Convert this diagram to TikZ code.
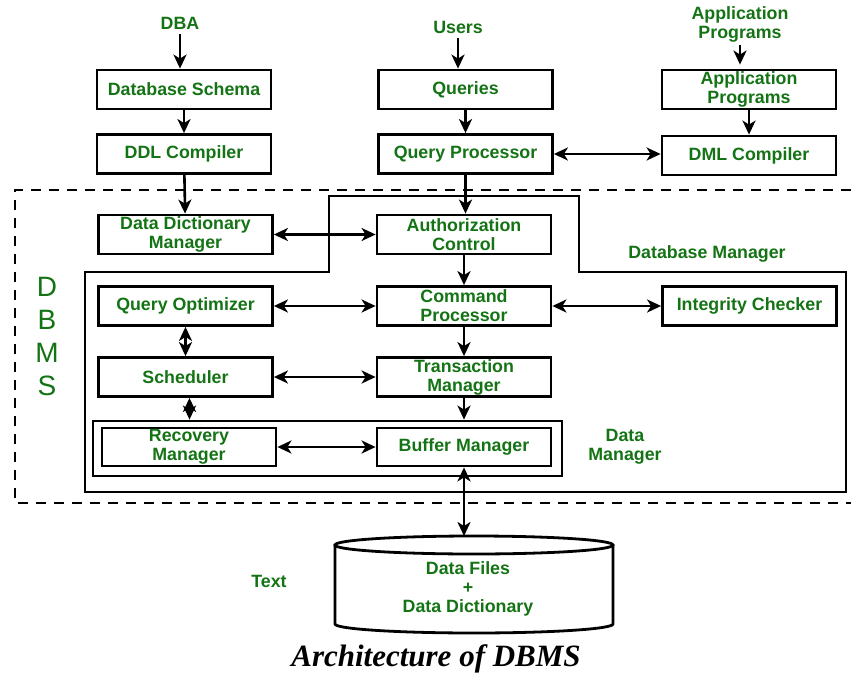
\documentclass[tikz,border=0pt]{standalone}
\usepackage{fontspec}
\setmainfont{Liberation Sans}
\newfontfamily\ttlfont{Liberation Serif}
\usetikzlibrary{arrows.meta}
\definecolor{txtgreen}{RGB}{20,115,20}
\newcommand\lblfont{\bfseries\fontsize{17.8}{19}\selectfont}
\begin{document}
\begin{tikzpicture}[x=1pt,y=-1pt,
  box/.style={draw, line width=2.8pt, minimum width=174pt, minimum height=39pt, align=center, text=txtgreen, font=\lblfont, inner sep=0pt},
  lbl/.style={text=txtgreen, font=\lblfont, align=center, inner sep=1pt},
  thk/.style={line width=2.8pt},
  ar/.style={line width=2.6pt, -{Stealth[length=14pt,width=13pt,inset=4pt]}},
  ar2/.style={line width=2.6pt, {Stealth[length=14pt,width=13pt,inset=4pt]}-{Stealth[length=14pt,width=13pt,inset=4pt]}}
]
\useasboundingbox (0,0) rectangle (851,674);

% top labels
\node[lbl] (dba) at (180,23) {DBA};
\node[lbl] (users) at (458,27) {Users};
\node[lbl] (apt) at (740,24) {Application\\Programs};

% top boxes
\node[box] (ds) at (184,89.5) {Database Schema};
\node[box] (qu) at (465.5,89.5) {Queries};
\node[box] (ap) at (749,89.5) {Application\\Programs};
\node[box] (ddl) at (184,154) {DDL Compiler};
\node[box] (qp) at (465.5,154) {Query Processor};
\node[box] (dml) at (749,155.5) {DML Compiler};

% DBMS dashed frame
\draw[thk, dash pattern=on 10pt off 8pt] (851,190) -- (15,190) -- (15,503) -- (851,503);
\node[text=txtgreen, font=\fontsize{28}{33}\selectfont, align=center, inner sep=0pt] (dbms) at (47,337) {D\\B\\M\\S};

% database manager outline
\draw[thk] (329,196) -- (579,196) -- (579,272) -- (846,272) -- (846,492) -- (85,492) -- (85,272) -- (329,272) -- cycle;
\node[lbl] (dbmlbl) at (707,254) {Database Manager};

% inner boxes
\node[box] (ddm) at (185.5,234.5) {Data Dictionary\\Manager};
\node[box] (ac) at (464,234.5) {Authorization\\Control};
\node[box] (qo) at (185.5,306) {Query Optimizer};
\node[box] (cp) at (464,306) {Command\\Processor};
\node[box] (ic) at (749.5,306) {Integrity Checker};
\node[box] (sch) at (185.5,377) {Scheduler};
\node[box] (tm) at (464,377) {Transaction\\Manager};

% data manager
\node[draw, thk, minimum width=469pt, minimum height=55pt, inner sep=0pt] (dmb) at (327.5,448.5) {};
\node[box, minimum height=38pt] (rm) at (189,447) {Recovery\\Manager};
\node[box, minimum height=38pt] (bm) at (464,447) {Buffer Manager};
\node[lbl] (dmlbl) at (625,447) {Data\\Manager};

% cylinder
\coordinate (cyltop) at (474,536);
\draw[thk] (474,545) ellipse [x radius=139pt, y radius=9pt];
\draw[thk] (335,545) -- (335,624) arc[start angle=180, end angle=360, x radius=139pt, y radius=9pt] -- (613,545);
\node[lbl] (df) at (468,589) {Data Files\\+\\Data Dictionary};
\node[lbl] (txt) at (269,581) {Text};

% title
\node[font=\ttlfont\bfseries\itshape\fontsize{31}{33}\selectfont, inner sep=0pt] (title) at (436,659) {Architecture of DBMS};

% arrows
\draw[ar, shorten <=4pt] (dba.south) -- (dba.south |- ds.north);
\draw[ar, shorten <=4pt] (users.south) -- (users.south |- qu.north);
\draw[ar, shorten <=2pt, shorten >=4pt] (apt.south) -- (apt.south |- ap.north);
\draw[ar] (ds) -- (ddl);
\draw[ar] (qu) -- (qp);
\draw[ar] (ap) -- (ap |- dml.north);
\draw[ar2] (qp.east) -- (qp.east -| dml.west);
\draw[ar] (ddl) -- (ddm);
\draw[ar] (qp) -- (qp |- ac.north);
\draw[ar2] (ddm) -- (ac);
\draw[ar] (ac) -- (cp);
\draw[ar2] (qo) -- (cp);
\draw[ar2] (cp) -- (ic);
\draw[ar2] (qo) -- (sch);
\draw[ar2] (sch) -- (tm);
\draw[ar] (cp) -- (tm);
\draw[ar2] ([xshift=4pt]sch.south) -- ([xshift=4pt]sch.south |- dmb.north);
\draw[ar] (tm.south) -- (tm.south |- dmb.north);
\draw[ar2] (rm) -- (bm);
\draw[ar2] (bm.south) -- (bm.south |- cyltop);
\end{tikzpicture}
\end{document}
